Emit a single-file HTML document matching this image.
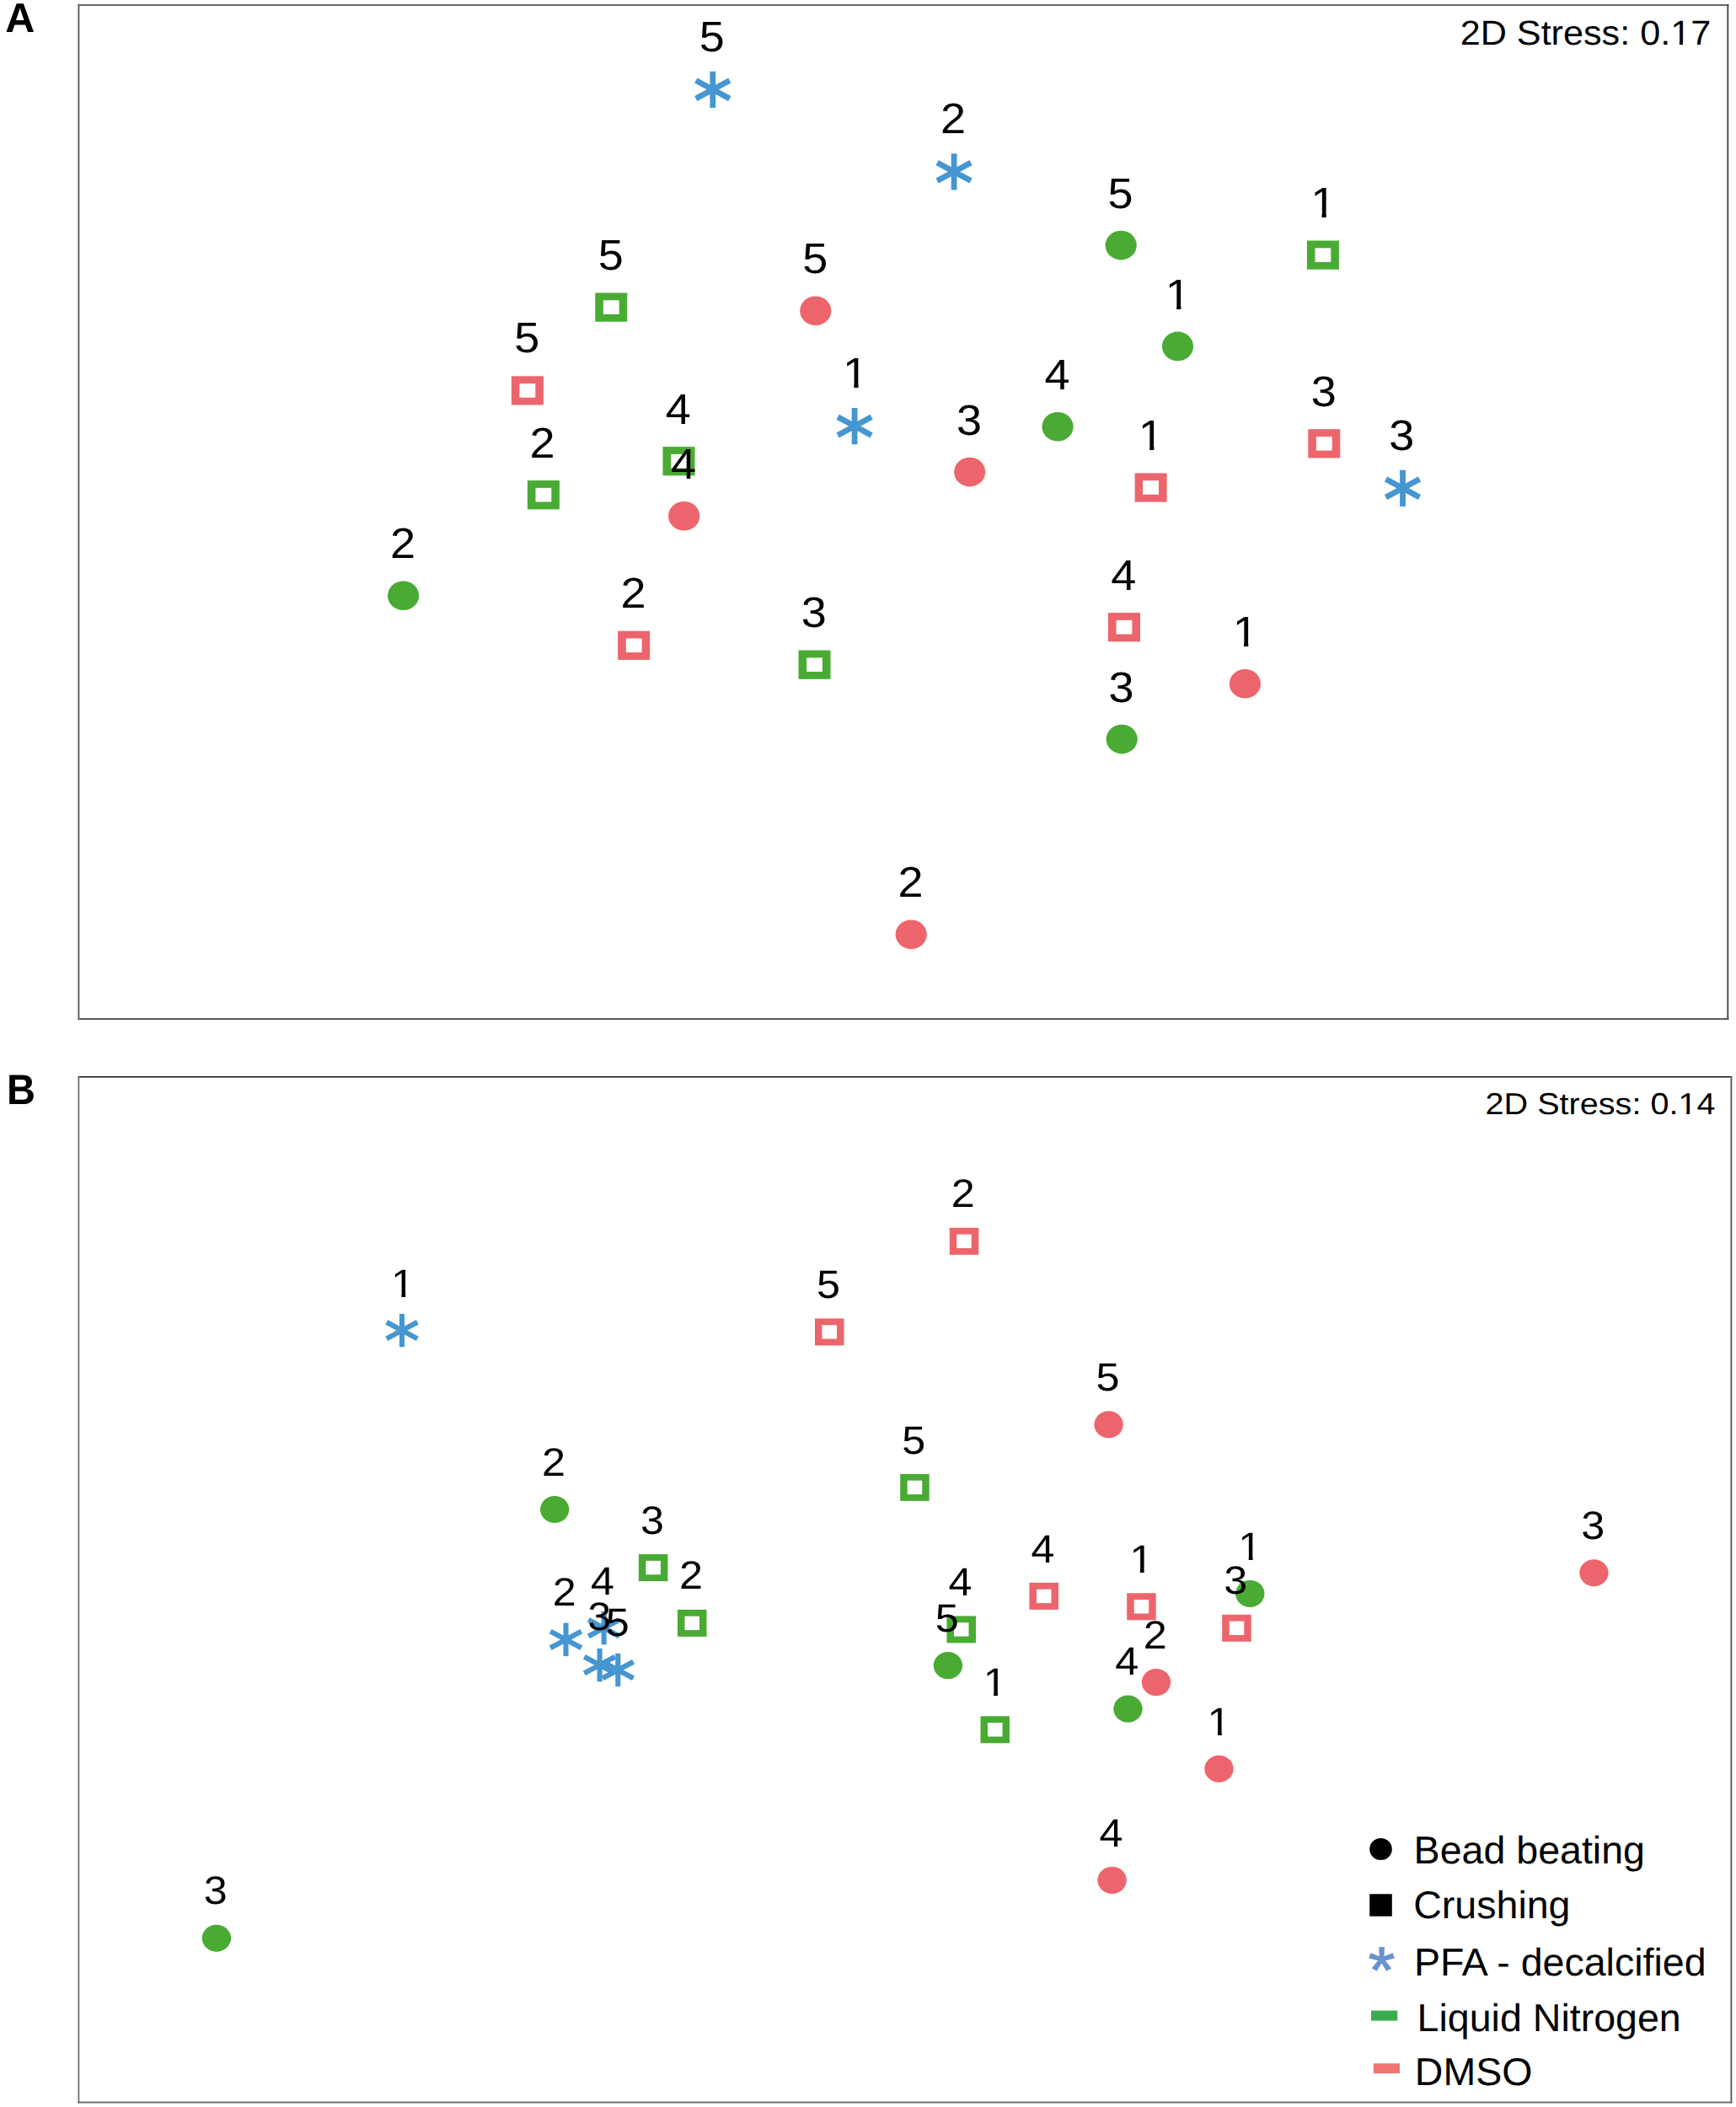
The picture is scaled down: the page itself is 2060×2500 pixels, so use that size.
<!DOCTYPE html>
<html><head><meta charset="utf-8"><title>Figure</title>
<style>html,body{margin:0;padding:0;background:#fff}svg{display:block}text{font-family:"Liberation Sans",Arial,sans-serif;fill:#000;text-rendering:geometricPrecision}</style>
</head><body>
<svg width="2060" height="2500" viewBox="0 0 2060 2500">
<defs><clipPath id="one51" clipPathUnits="userSpaceOnUse"><path d="M-30 -60H30V-4.81H3.35V4H-1.56V-4.81H-30Z"/></clipPath><clipPath id="one47" clipPathUnits="userSpaceOnUse"><path d="M-30 -60H30V-4.51H3.10V4H-1.45V-4.51H-30Z"/></clipPath></defs>
<rect width="2060" height="2500" fill="#fff"/>
<line x1="92.40" y1="6.10" x2="2051.30" y2="6.10" stroke="#6a6a6a" stroke-width="2"/><line x1="2050.30" y1="5.10" x2="2050.30" y2="1209.90" stroke="#4e4e4e" stroke-width="2"/><line x1="92.40" y1="1208.90" x2="2051.30" y2="1208.90" stroke="#585858" stroke-width="2"/><line x1="93.40" y1="5.10" x2="93.40" y2="1209.90" stroke="#646464" stroke-width="2"/>
<line x1="92.55" y1="1277.70" x2="2055.35" y2="1277.70" stroke="#151515" stroke-width="1.35"/><line x1="2054.40" y1="1277.03" x2="2054.40" y2="2495.45" stroke="#5c5c5c" stroke-width="1.9"/><line x1="92.55" y1="2494.50" x2="2055.35" y2="2494.50" stroke="#707070" stroke-width="1.9"/><line x1="93.40" y1="1277.03" x2="93.40" y2="2495.45" stroke="#666" stroke-width="1.7"/>
<g stroke="#4596d1" stroke-width="6.8" fill="none"><line x1="845.8" y1="84.7" x2="845.8" y2="127.9"/><line x1="825.8" y1="95.5" x2="865.8" y2="117.1"/><line x1="865.8" y1="95.5" x2="825.8" y2="117.1"/></g>
<g stroke="#4596d1" stroke-width="6.8" fill="none"><line x1="1132.1" y1="182.2" x2="1132.1" y2="225.4"/><line x1="1112.1" y1="193.0" x2="1152.1" y2="214.6"/><line x1="1152.1" y1="193.0" x2="1112.1" y2="214.6"/></g>
<ellipse cx="1330.2" cy="291.1" rx="18.6" ry="17.3" fill="#49ab33"/>
<rect x="1550.9" y="285.5" width="38.0" height="34.2" fill="#49ab33"/><rect x="1560.5" y="294.3" width="18.8" height="16.6" fill="#fff"/>
<rect x="706.3" y="347.5" width="38.0" height="34.2" fill="#49ab33"/><rect x="715.9" y="356.3" width="18.8" height="16.6" fill="#fff"/>
<ellipse cx="967.8" cy="368.8" rx="18.6" ry="17.3" fill="#ed656c"/>
<ellipse cx="1397.5" cy="410.9" rx="18.6" ry="17.3" fill="#49ab33"/>
<rect x="606.9" y="446.3" width="38.0" height="34.2" fill="#ed656c"/><rect x="616.5" y="455.1" width="18.8" height="16.6" fill="#fff"/>
<g stroke="#4596d1" stroke-width="6.8" fill="none"><line x1="1014.1" y1="484.0" x2="1014.1" y2="527.2"/><line x1="994.1" y1="494.8" x2="1034.1" y2="516.4"/><line x1="1034.1" y1="494.8" x2="994.1" y2="516.4"/></g>
<ellipse cx="1255.1" cy="506.3" rx="18.6" ry="17.3" fill="#49ab33"/>
<rect x="1552.3" y="509.2" width="38.0" height="34.2" fill="#ed656c"/><rect x="1561.9" y="518.0" width="18.8" height="16.6" fill="#fff"/>
<rect x="786.5" y="530.1" width="38.0" height="34.2" fill="#49ab33"/><rect x="796.1" y="538.9" width="18.8" height="16.6" fill="#fff"/>
<ellipse cx="1150.7" cy="560.1" rx="18.6" ry="17.3" fill="#ed656c"/>
<rect x="1346.6" y="561.4" width="38.0" height="34.2" fill="#ed656c"/><rect x="1356.2" y="570.2" width="18.8" height="16.6" fill="#fff"/>
<g stroke="#4596d1" stroke-width="6.8" fill="none"><line x1="1664.5" y1="557.7" x2="1664.5" y2="600.9"/><line x1="1644.5" y1="568.5" x2="1684.5" y2="590.1"/><line x1="1684.5" y1="568.5" x2="1644.5" y2="590.1"/></g>
<rect x="625.9" y="570.1" width="38.0" height="34.2" fill="#49ab33"/><rect x="635.5" y="578.9" width="18.8" height="16.6" fill="#fff"/>
<ellipse cx="811.7" cy="612.3" rx="18.6" ry="17.3" fill="#ed656c"/>
<ellipse cx="478.6" cy="706.8" rx="18.6" ry="17.3" fill="#49ab33"/>
<rect x="1315.0" y="727.1" width="38.0" height="34.2" fill="#ed656c"/><rect x="1324.6" y="735.9" width="18.8" height="16.6" fill="#fff"/>
<rect x="733.2" y="748.7" width="38.0" height="34.2" fill="#ed656c"/><rect x="742.8" y="757.5" width="18.8" height="16.6" fill="#fff"/>
<rect x="947.5" y="771.6" width="38.0" height="34.2" fill="#49ab33"/><rect x="957.1" y="780.4" width="18.8" height="16.6" fill="#fff"/>
<ellipse cx="1477.4" cy="811.3" rx="18.6" ry="17.3" fill="#ed656c"/>
<ellipse cx="1331.2" cy="877.1" rx="18.6" ry="17.3" fill="#49ab33"/>
<ellipse cx="1081.2" cy="1108.7" rx="18.6" ry="17.3" fill="#ed656c"/>
<text transform="translate(844.7 60.6) scale(1.06 1)" font-size="51" text-anchor="middle">5</text>
<text transform="translate(1131.0 158.1) scale(1.06 1)" font-size="51" text-anchor="middle">2</text>
<text transform="translate(1329.6 246.6) scale(1.06 1)" font-size="51" text-anchor="middle">5</text>
<text transform="translate(1570.2 258.4) scale(1.06 1)" font-size="51" text-anchor="middle" clip-path="url(#one51)">1</text>
<text transform="translate(724.7 320.1) scale(1.06 1)" font-size="51" text-anchor="middle">5</text>
<text transform="translate(967.2 324.3) scale(1.06 1)" font-size="51" text-anchor="middle">5</text>
<text transform="translate(1397.8 366.7) scale(1.06 1)" font-size="51" text-anchor="middle" clip-path="url(#one51)">1</text>
<text transform="translate(625.3 418.1) scale(1.06 1)" font-size="51" text-anchor="middle">5</text>
<text transform="translate(1015.0 460.2) scale(1.06 1)" font-size="51" text-anchor="middle" clip-path="url(#one51)">1</text>
<text transform="translate(1254.5 461.8) scale(1.06 1)" font-size="51" text-anchor="middle">4</text>
<text transform="translate(1570.7 481.8) scale(1.06 1)" font-size="51" text-anchor="middle">3</text>
<text transform="translate(804.9 502.7) scale(1.06 1)" font-size="51" text-anchor="middle">4</text>
<text transform="translate(1150.1 515.6) scale(1.06 1)" font-size="51" text-anchor="middle">3</text>
<text transform="translate(1365.9 534.3) scale(1.06 1)" font-size="51" text-anchor="middle" clip-path="url(#one51)">1</text>
<text transform="translate(1663.4 533.6) scale(1.06 1)" font-size="51" text-anchor="middle">3</text>
<text transform="translate(643.5 543.3) scale(1.06 1)" font-size="51" text-anchor="middle">2</text>
<text transform="translate(811.1 567.8) scale(1.06 1)" font-size="51" text-anchor="middle">4</text>
<text transform="translate(478.0 662.3) scale(1.06 1)" font-size="51" text-anchor="middle">2</text>
<text transform="translate(1333.4 699.7) scale(1.06 1)" font-size="51" text-anchor="middle">4</text>
<text transform="translate(751.6 721.3) scale(1.06 1)" font-size="51" text-anchor="middle">2</text>
<text transform="translate(965.9 744.2) scale(1.06 1)" font-size="51" text-anchor="middle">3</text>
<text transform="translate(1477.7 767.1) scale(1.06 1)" font-size="51" text-anchor="middle" clip-path="url(#one51)">1</text>
<text transform="translate(1330.6 832.6) scale(1.06 1)" font-size="51" text-anchor="middle">3</text>
<text transform="translate(1080.6 1064.2) scale(1.06 1)" font-size="51" text-anchor="middle">2</text>
<rect x="1126.8" y="1456.8" width="34.5" height="32.0" fill="#ed656c"/><rect x="1135.2" y="1464.6" width="17.5" height="16.4" fill="#fff"/>
<g stroke="#4596d1" stroke-width="6.1" fill="none"><line x1="477.0" y1="1558.9" x2="477.0" y2="1598.3"/><line x1="458.7" y1="1568.8" x2="495.3" y2="1588.4"/><line x1="495.3" y1="1568.8" x2="458.7" y2="1588.4"/></g>
<rect x="967.0" y="1564.4" width="34.5" height="32.0" fill="#ed656c"/><rect x="975.5" y="1572.2" width="17.5" height="16.4" fill="#fff"/>
<ellipse cx="1315.6" cy="1690.3" rx="17.2" ry="16.0" fill="#ed656c"/>
<rect x="1068.2" y="1748.9" width="34.5" height="32.0" fill="#49ab33"/><rect x="1076.7" y="1756.7" width="17.5" height="16.4" fill="#fff"/>
<ellipse cx="658.2" cy="1791.0" rx="17.2" ry="16.0" fill="#49ab33"/>
<rect x="757.9" y="1844.1" width="34.5" height="32.0" fill="#49ab33"/><rect x="766.4" y="1851.9" width="17.5" height="16.4" fill="#fff"/>
<ellipse cx="1891.4" cy="1866.2" rx="17.2" ry="16.0" fill="#ed656c"/>
<ellipse cx="1483.3" cy="1890.9" rx="17.2" ry="16.0" fill="#49ab33"/>
<rect x="1221.5" y="1877.9" width="34.5" height="32.0" fill="#ed656c"/><rect x="1230.0" y="1885.7" width="17.5" height="16.4" fill="#fff"/>
<rect x="1337.2" y="1890.3" width="34.5" height="32.0" fill="#ed656c"/><rect x="1345.7" y="1898.1" width="17.5" height="16.4" fill="#fff"/>
<rect x="804.0" y="1909.9" width="34.5" height="32.0" fill="#49ab33"/><rect x="812.5" y="1917.7" width="17.5" height="16.4" fill="#fff"/>
<g stroke="#4596d1" stroke-width="6.1" fill="none"><line x1="716.6" y1="1912.0" x2="716.6" y2="1951.4"/><line x1="698.3" y1="1921.9" x2="734.9" y2="1941.5"/><line x1="734.9" y1="1921.9" x2="698.3" y2="1941.5"/></g>
<rect x="1450.2" y="1915.8" width="34.5" height="32.0" fill="#ed656c"/><rect x="1458.8" y="1923.6" width="17.5" height="16.4" fill="#fff"/>
<rect x="1123.5" y="1917.4" width="34.5" height="32.0" fill="#49ab33"/><rect x="1132.0" y="1925.2" width="17.5" height="16.4" fill="#fff"/>
<g stroke="#4596d1" stroke-width="6.1" fill="none"><line x1="671.5" y1="1925.7" x2="671.5" y2="1965.1"/><line x1="653.2" y1="1935.6" x2="689.8" y2="1955.2"/><line x1="689.8" y1="1935.6" x2="653.2" y2="1955.2"/></g>
<ellipse cx="1124.9" cy="1976.1" rx="17.2" ry="16.0" fill="#49ab33"/>
<g stroke="#4596d1" stroke-width="6.1" fill="none"><line x1="711.6" y1="1955.9" x2="711.6" y2="1995.3"/><line x1="693.3" y1="1965.8" x2="729.9" y2="1985.4"/><line x1="729.9" y1="1965.8" x2="693.3" y2="1985.4"/></g>
<g stroke="#4596d1" stroke-width="6.1" fill="none"><line x1="733.3" y1="1961.8" x2="733.3" y2="2001.2"/><line x1="715.0" y1="1971.7" x2="751.6" y2="1991.3"/><line x1="751.6" y1="1971.7" x2="715.0" y2="1991.3"/></g>
<ellipse cx="1372.0" cy="1996.1" rx="17.2" ry="16.0" fill="#ed656c"/>
<ellipse cx="1338.5" cy="2027.6" rx="17.2" ry="16.0" fill="#49ab33"/>
<rect x="1163.5" y="2036.3" width="34.5" height="32.0" fill="#49ab33"/><rect x="1172.0" y="2044.1" width="17.5" height="16.4" fill="#fff"/>
<ellipse cx="1446.5" cy="2098.8" rx="17.2" ry="16.0" fill="#ed656c"/>
<ellipse cx="1319.6" cy="2230.9" rx="17.2" ry="16.0" fill="#ed656c"/>
<ellipse cx="256.9" cy="2299.7" rx="17.2" ry="16.0" fill="#49ab33"/>
<text transform="translate(1142.8 1432.4) scale(1.07 1)" font-size="47" text-anchor="middle">2</text>
<text transform="translate(477.9 1538.8) scale(1.07 1)" font-size="47" text-anchor="middle" clip-path="url(#one47)">1</text>
<text transform="translate(983.1 1540.0) scale(1.07 1)" font-size="47" text-anchor="middle">5</text>
<text transform="translate(1314.4 1649.9) scale(1.07 1)" font-size="47" text-anchor="middle">5</text>
<text transform="translate(1084.2 1724.5) scale(1.07 1)" font-size="47" text-anchor="middle">5</text>
<text transform="translate(657.0 1750.6) scale(1.07 1)" font-size="47" text-anchor="middle">2</text>
<text transform="translate(773.9 1819.7) scale(1.07 1)" font-size="47" text-anchor="middle">3</text>
<text transform="translate(1890.2 1825.8) scale(1.07 1)" font-size="47" text-anchor="middle">3</text>
<text transform="translate(1483.3 1850.8) scale(1.07 1)" font-size="47" text-anchor="middle" clip-path="url(#one47)">1</text>
<text transform="translate(1237.5 1853.5) scale(1.07 1)" font-size="47" text-anchor="middle">4</text>
<text transform="translate(1354.4 1866.2) scale(1.07 1)" font-size="47" text-anchor="middle" clip-path="url(#one47)">1</text>
<text transform="translate(820.0 1884.9) scale(1.07 1)" font-size="47" text-anchor="middle">2</text>
<text transform="translate(714.9 1891.6) scale(1.07 1)" font-size="47" text-anchor="middle">4</text>
<text transform="translate(1466.3 1891.4) scale(1.07 1)" font-size="47" text-anchor="middle">3</text>
<text transform="translate(1139.6 1893.0) scale(1.07 1)" font-size="47" text-anchor="middle">4</text>
<text transform="translate(669.8 1905.3) scale(1.07 1)" font-size="47" text-anchor="middle">2</text>
<text transform="translate(1123.7 1935.7) scale(1.07 1)" font-size="47" text-anchor="middle">5</text>
<text transform="translate(711.3 1933.9) scale(1.07 1)" font-size="47" text-anchor="middle">3</text>
<text transform="translate(732.8 1941.4) scale(1.07 1)" font-size="47" text-anchor="middle">5</text>
<text transform="translate(1370.8 1955.7) scale(1.07 1)" font-size="47" text-anchor="middle">2</text>
<text transform="translate(1337.3 1987.2) scale(1.07 1)" font-size="47" text-anchor="middle">4</text>
<text transform="translate(1180.7 2012.2) scale(1.07 1)" font-size="47" text-anchor="middle" clip-path="url(#one47)">1</text>
<text transform="translate(1446.5 2058.7) scale(1.07 1)" font-size="47" text-anchor="middle" clip-path="url(#one47)">1</text>
<text transform="translate(1318.4 2190.5) scale(1.07 1)" font-size="47" text-anchor="middle">4</text>
<text transform="translate(255.7 2259.3) scale(1.07 1)" font-size="47" text-anchor="middle">3</text>
<text transform="translate(6.2 38.0) scale(0.99 1)" font-size="49" text-anchor="start" font-weight="bold">A</text>
<text transform="translate(8.1 1309.6) scale(0.94 1)" font-size="50" text-anchor="start" font-weight="bold">B</text>
<text transform="translate(2030.2 53.4) scale(1.053 1)" font-size="41" text-anchor="end">2D Stress: 0.17</text>
<text transform="translate(2035.5 1322.3) scale(1.1 1)" font-size="36" text-anchor="end">2D Stress: 0.14</text>
<rect x="1984.67" y="49.44" width="8.22" height="5.06" fill="#fff"/><rect x="1997.00" y="49.44" width="7.88" height="5.06" fill="#fff"/>
<rect x="1993.67" y="1318.71" width="7.59" height="4.69" fill="#fff"/><rect x="2005.06" y="1318.71" width="7.28" height="4.69" fill="#fff"/>
<ellipse cx="1638.5" cy="2194.0" rx="13.3" ry="13.1" fill="#000"/>
<rect x="1625.2" y="2247.3" width="26.6" height="26.4" fill="#000"/>
<text transform="translate(1639.5 2363.6) scale(1.05 1)" font-size="77.3" text-anchor="middle" style="fill:#6b92cd;stroke:#6b92cd;stroke-width:1.2;stroke-linejoin:miter">*</text>
<rect x="1627.0" y="2385.6" width="31.2" height="12" fill="#3bab50"/>
<rect x="1629.8" y="2448.3" width="31.2" height="11.8" fill="#ee7671"/>
<text transform="translate(1677.6 2211.0) scale(1.012 1)" font-size="46" text-anchor="start">Bead beating</text>
<text transform="translate(1677.2 2276.3) scale(1.012 1)" font-size="46" text-anchor="start">Crushing</text>
<text transform="translate(1677.9 2343.8) scale(1.012 1)" font-size="46" text-anchor="start">PFA - decalcified</text>
<text transform="translate(1681.6 2409.6) scale(1.012 1)" font-size="46" text-anchor="start">Liquid Nitrogen</text>
<text transform="translate(1678.8 2473.7) scale(1.012 1)" font-size="46" text-anchor="start">DMSO</text>
</svg>
</body></html>
